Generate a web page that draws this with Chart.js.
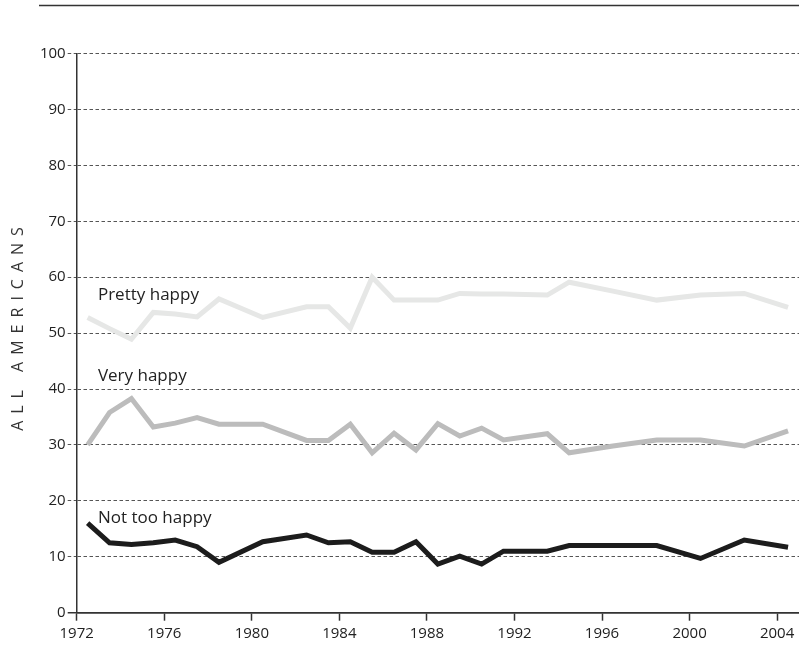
<!DOCTYPE html>
<html>
<head>
<meta charset="utf-8">
<script src="https://cdn.jsdelivr.net/npm/chart.js@4.4.0/dist/chart.umd.min.js"></script>
<style>
    html, body { margin: 0; padding: 0; background: #ffffff; }
    #happyChart { display: block; }
</style>
</head>
<body>
<canvas id="happyChart" width="799" height="647"></canvas>
<script>
// Survey years and shares (percent)
const years = [1972, 1973, 1974, 1975, 1976, 1977, 1978, 1980, 1982, 1983, 1984, 1985, 1986,
    1987, 1988, 1989, 1990, 1991, 1993, 1994, 1996, 1998, 2000, 2002, 2004];
const prettyHappy = [52.8, 50.8, 48.9, 53.7, 53.4, 52.9, 56.1, 52.8, 54.7, 54.7, 50.9, 60.0, 55.9,
    55.9, 55.9, 57.1, 57.0, 57.0, 56.8, 59.1, 57.5, 55.9, 56.8, 57.1, 54.6];
const veryHappy = [30.0, 35.8, 38.3, 33.2, 33.9, 34.9, 33.7, 33.7, 30.8, 30.8, 33.7, 28.6, 32.1,
    29.1, 33.8, 31.6, 33.0, 30.9, 32.0, 28.6, 29.8, 30.9, 30.9, 29.8, 32.5];
const notTooHappy = [16.0, 12.5, 12.2, 12.5, 13.0, 11.8, 9.0, 12.7, 13.9, 12.5, 12.7, 10.8, 10.8,
    12.7, 8.7, 10.1, 8.7, 11.0, 11.0, 12.0, 12.0, 12.0, 9.7, 13.0, 11.7];
const seriesNames = ['Pretty happy', 'Very happy', 'Not too happy'];
const yTicks = [0, 10, 20, 30, 40, 50, 60, 70, 80, 90, 100];
const xTicks = [1972, 1976, 1980, 1984, 1988, 1992, 1996, 2000, 2004];

const colors = {
    pretty: '#e6e7e6',
    very: '#bcbcbc',
    notToo: '#1c1c1c',
    axis: '#333333',
    grid: '#555555',
    text: '#222222'
};
const fontFamily = '"Open Sans", "DejaVu Sans", sans-serif';

// each survey is plotted at mid-year
function toPoints(values) {
    return values.map((v, i) => ({ x: years[i] + 0.5, y: v }));
}

function lineSet(label, values, color) {
    return {
        label: label,
        data: toPoints(values),
        borderColor: color,
        backgroundColor: color,
        borderWidth: 5,
        borderJoinStyle: 'miter',
        borderCapStyle: 'butt',
        pointRadius: 0,
        tension: 0,
        fill: false
    };
}

// series names next to the lines, the top rule and the rotated axis title
const decorations = {
    id: 'decorations',
    afterDraw(chart) {
        const c = chart.ctx;
        const xs = chart.scales.x;
        const ys = chart.scales.y;
        c.save();

        c.strokeStyle = colors.axis;
        c.lineWidth = 1.5;
        c.beginPath();
        c.moveTo(39, 5.5);
        c.lineTo(chart.width, 5.5);
        c.stroke();

        c.fillStyle = colors.text;
        c.font = '17px ' + fontFamily;
        c.textAlign = 'left';
        c.textBaseline = 'middle';
        const anchors = [56.8, 42.3, 16.9];
        seriesNames.forEach((name, i) => {
            c.fillText(name, xs.getPixelForValue(1972.97), ys.getPixelForValue(anchors[i]));
        });

        c.translate(18, 329);
        c.rotate(-Math.PI / 2);
        c.font = '16px ' + fontFamily;
        c.letterSpacing = '7px';
        c.textAlign = 'center';
        c.fillStyle = colors.axis;
        c.fillText('ALL AMERICANS', 3.5, 0);
        c.restore();
    }
};

const ctx = document.getElementById('happyChart').getContext('2d');
const happyChart = new Chart(ctx, {
    type: 'line',
    data: {
        datasets: [
            lineSet(seriesNames[0], prettyHappy, colors.pretty),
            lineSet(seriesNames[1], veryHappy, colors.very),
            lineSet(seriesNames[2], notTooHappy, colors.notToo)
        ]
    },
    options: {
        responsive: false,
        animation: false,
        layout: {
            padding: { top: 53.5, right: 0, bottom: 0, left: 0 }
        },
        plugins: {
            legend: { display: false },
            tooltip: { enabled: false }
        },
        scales: {
            x: {
                type: 'linear',
                min: 1972,
                max: 2005,
                afterBuildTicks: (scale) => {
                    scale.ticks = xTicks.map(v => ({ value: v }));
                },
                afterFit: (scale) => { scale.height = 34.3; },
                ticks: {
                    color: colors.text,
                    padding: 4,
                    maxRotation: 0,
                    font: { family: fontFamily, size: 15 },
                    callback: (value) => String(value)
                },
                grid: {
                    drawOnChartArea: false,
                    drawTicks: true,
                    tickLength: 8,
                    tickColor: colors.axis,
                    tickWidth: 1.5
                },
                border: {
                    display: true,
                    color: colors.axis,
                    width: 1.5
                }
            },
            y: {
                min: 0,
                max: 100,
                afterBuildTicks: (scale) => {
                    scale.ticks = yTicks.map(v => ({ value: v }));
                },
                afterFit: (scale) => { scale.width = 76.7; },
                ticks: {
                    color: colors.text,
                    padding: 2,
                    font: { family: fontFamily, size: 15 }
                },
                grid: {
                    color: (c) => c.tick && c.tick.value === 0 ? colors.axis : colors.grid,
                    lineWidth: (c) => c.tick && c.tick.value === 0 ? 1.5 : 1,
                    tickLength: 9,
                    tickColor: (c) => c.tick && c.tick.value === 0 ? colors.axis : colors.grid,
                    tickBorderDash: (c) => c.tick && c.tick.value === 0 ? [] : [3.5, 2.5]
                },
                border: {
                    display: true,
                    color: colors.axis,
                    width: 1.5,
                    dash: (c) => c.tick && c.tick.value === 0 ? [] : [3.5, 2.5]
                }
            }
        }
    },
    plugins: [decorations]
});
</script>
</body>
</html>
